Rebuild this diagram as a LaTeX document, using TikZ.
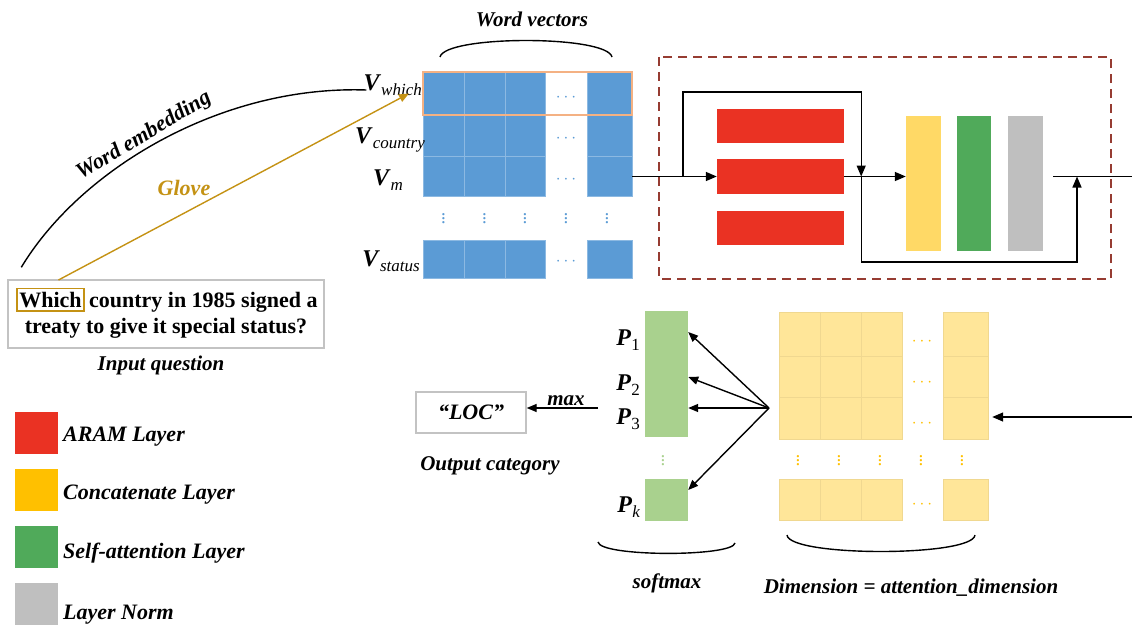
\documentclass[tikz,border=0pt]{standalone}
\usepackage{fontspec}
\setmainfont{Liberation Serif}
\usetikzlibrary{arrows.meta,positioning}
\definecolor{vecblue}{RGB}{91,155,213}
\definecolor{rowedge}{RGB}{244,177,131}
\definecolor{aramred}{RGB}{234,50,35}
\definecolor{concatyel}{RGB}{255,217,102}
\definecolor{legyel}{RGB}{255,192,0}
\definecolor{selfgreen}{RGB}{80,170,90}
\definecolor{normgray}{RGB}{191,191,191}
\definecolor{probgreen}{RGB}{169,209,142}
\definecolor{attnyel}{RGB}{255,230,153}
\definecolor{glovegold}{RGB}{196,146,20}
\definecolor{boxbrown}{RGB}{150,60,50}
\definecolor{framegray}{RGB}{195,195,195}
\newcommand{\vecsym}[2]{\textbf{\textit{#1}}\raisebox{-.45ex}{\fontsize{17}{17}\selectfont\mdseries\itshape #2}}

\begin{document}
\begin{tikzpicture}[x=1pt,y=-1pt,
    lbl/.style={font=\fontsize{21}{24}\selectfont\bfseries\itshape},
    leglbl/.style={font=\fontsize{22}{24}\selectfont\bfseries\itshape,anchor=base west,inner sep=0pt},
    qtext/.style={font=\fontsize{22}{26}\selectfont\bfseries,inner sep=0pt},
    vlab/.style={font=\fontsize{24}{24}\selectfont,inner sep=0pt},
    vcell/.style={fill=vecblue,draw=vecblue!70!white,line width=.6pt,inner sep=0pt},
    acell/.style={fill=attnyel,draw=attnyel!90!black!60!attnyel,line width=.4pt,inner sep=0pt},
    pcell/.style={fill=probgreen,minimum width=43pt,minimum height=42pt,inner sep=0pt},
    block/.style={inner sep=0pt},
    legbox/.style={minimum width=43pt,minimum height=42pt,inner sep=0pt},
    flow/.style={line width=1.4pt,-{Triangle[length=11pt,width=9pt]}},
    fanarrow/.style={line width=1.4pt,-{Triangle[length=10pt,width=8pt]}},
    hdots/.style={font=\fontsize{19}{19}\selectfont,inner sep=0pt}]
\useasboundingbox (0,0) rectangle (1132,626);

\foreach \r/\yc/\hh in {1/93.5/43,2/136/42,3/176.5/40,4/259/38}
  \foreach \c/\xc/\ww in {1/443.5/41,2/484.5/41,3/525/40,4/609.5/45}
    \node[vcell,minimum width=\ww pt,minimum height=\hh pt] (v-\r-\c) at (\xc,\yc) {};
\foreach \y in {98,139,180,262} \node[hdots,text=vecblue] at (566,\y) {$\cdots$};
\foreach \x in {443.5,484.5,525,566,607} \node[hdots,text=vecblue] at (\x,216) {$\vdots$};
\draw[rowedge,line width=2pt] (v-1-1.north west) rectangle (v-1-4.south east);

\node[vlab,anchor=east] (vwhich) at (422,85) {\vecsym{V}{which}};
\node[vlab,anchor=east] (vcountry) at (425,140) {\vecsym{V}{country}};
\node[vlab] (vm) at (388,180) {\vecsym{V}{m}};
\node[vlab,anchor=east] (vstatus) at (420,261) {\vecsym{V}{status}};

\draw[line width=1.4pt] (440,57) .. controls (445,35) and (607,35) .. (612,57);
\node[lbl,anchor=base] at (532,27) {Word vectors};

\node[draw=framegray,line width=1.4pt,minimum width=316pt,minimum height=68pt] (question) at (166,314) {};
\node[qtext,draw=glovegold,line width=1.4pt,inner xsep=2.5pt,inner ysep=3.5pt,anchor=base] (which) at (50.5,307) {Which};
\node[qtext,anchor=base west] (line1) at ([xshift=4pt]which.base east) {country in 1985 signed a};
\node[qtext,anchor=base] (line2) at (166,333) {treaty to give it special status?};
\node[lbl,anchor=base] at (161,370) {Input question};

\coordinate (embstart) at ([shift={(14,-12)}]question.north west);
\coordinate (embend) at ([shift={(3,5)}]vwhich.west);
\draw[line width=1.4pt] (embstart) .. controls (80,170) and (220,85) .. (embend);
\node[lbl,rotate=31,font=\fontsize{22}{24}\selectfont\bfseries\itshape] at (144,136) {Word embedding};

\coordinate (glovestart) at (58.5,280);
\coordinate (gloveend) at (409,93.5);
\draw[glovegold,line width=1.4pt,-{Triangle[length=10pt,width=8pt]}] (glovestart) -- (gloveend);
\node[lbl,text=glovegold,anchor=base,font=\fontsize{22}{24}\selectfont\bfseries\itshape] at (184,195) {Glove};

\draw[boxbrown,line width=1.3pt,dash pattern=on 9pt off 6pt] (659,57) rectangle (1111,279);
\node[block,fill=aramred,minimum width=127pt,minimum height=34pt] (aram1) at (780.5,125.5) {};
\node[block,fill=aramred,minimum width=127pt,minimum height=35pt] (aram2) at (780.5,176.5) {};
\node[block,fill=aramred,minimum width=127pt,minimum height=34pt] (aram3) at (780.5,228) {};
\node[block,fill=concatyel,minimum width=35pt,minimum height=135pt] (concat) at (923.5,183.5) {};
\node[block,fill=selfgreen,minimum width=34pt,minimum height=135pt] (selfatt) at (974,183.5) {};
\node[block,fill=normgray,minimum width=35pt,minimum height=135pt] (norm) at (1025.5,183.5) {};

\coordinate (split) at ([xshift=-34pt]aram2.west);
\coordinate (join) at ([xshift=17pt]aram2.east);
\coordinate (merge) at (1077,176.5);
\coordinate (outstart) at (1053,176.5);
\coordinate (outend) at (1132,176.5);
\draw[flow] (v-3-4.east) -- (aram2.west);
\draw[flow] (split) -- ++(0,-84.5) -| (join);
\draw[flow] (aram2.east) -- (concat.west |- aram2.east);
\draw[flow] (join) -- ++(0,85.5) -| (merge);
\draw[line width=1.4pt] (outstart) -- (outend);

\foreach \r/\yc/\hh in {1/334/44,2/376.5/41,3/418/42,4/499.5/41}
  \foreach \c/\xc/\ww in {1/799.5/41,2/840.5/41,3/881.5/41,4/965.5/45}
    \node[acell,minimum width=\ww pt,minimum height=\hh pt] (a-\r-\c) at (\xc,\yc) {};
\foreach \y in {342,383,424,505} \node[hdots,text=legyel] at (922,\y) {$\cdots$};
\foreach \x in {798,839,880,921,962} \node[hdots,text=legyel] at (\x,458) {$\vdots$};
\coordinate (attnin) at (1132,417);
\draw[flow,shorten >=4pt] (attnin) -- (a-3-4.east |- attnin);
\draw[line width=1.4pt] (787,535) .. controls (789,557) and (973,557) .. (975,535);
\node[lbl,anchor=base] at (911,593) {Dimension = attention\_dimension};

\foreach \n/\yc in {1/332,2/374,3/416} \node[pcell] (prob\n) at (666.5,\yc) {};
\node[pcell] (probk) at (666.5,500) {};
\node[hdots,text=probgreen] at (663,458) {$\vdots$};
\node[vlab,anchor=east] at (640,340) {\vecsym{P}{\upshape 1}};
\node[vlab,anchor=east] at (640,385) {\vecsym{P}{\upshape 2}};
\node[vlab,anchor=east] at (640,419) {\vecsym{P}{\upshape 3}};
\node[vlab,anchor=east] at (640,507) {\vecsym{P}{k}};

\coordinate (fan) at (769,408);
\foreach \p/\s in {prob1/0,prob2/-3,prob3/8,probk/10}
  \draw[fanarrow] (fan) -- ([yshift=\s pt]\p.east);
\draw[line width=1.4pt] (598,542) .. controls (600,557) and (733,557) .. (735,543);
\node[lbl,anchor=base] at (667,588) {softmax};

\node[draw=framegray,line width=1.4pt,minimum width=110pt,minimum height=41pt,lbl,font=\fontsize{22}{24}\selectfont\bfseries\itshape] (loc) at (471,412.5) {“LOC”};
\coordinate (maxstart) at (598,408);
\draw[fanarrow] (maxstart) -- (loc.east |- maxstart);
\node[lbl,anchor=base] at (566,405) {max};
\node[lbl,anchor=base] at (490,470) {Output category};

\foreach \n/\col/\yc/\yb/\txt in {1/aramred/433/441/ARAM Layer,2/legyel/490/499/Concatenate Layer,3/selfgreen/547/558/Self-attention Layer,4/normgray/604/619/Layer Norm} {
  \node[legbox,fill=\col] (leg\n) at (36.5,\yc) {};
  \node[leglbl] at (63,\yb) {\txt};
}
\end{tikzpicture}
\end{document}
